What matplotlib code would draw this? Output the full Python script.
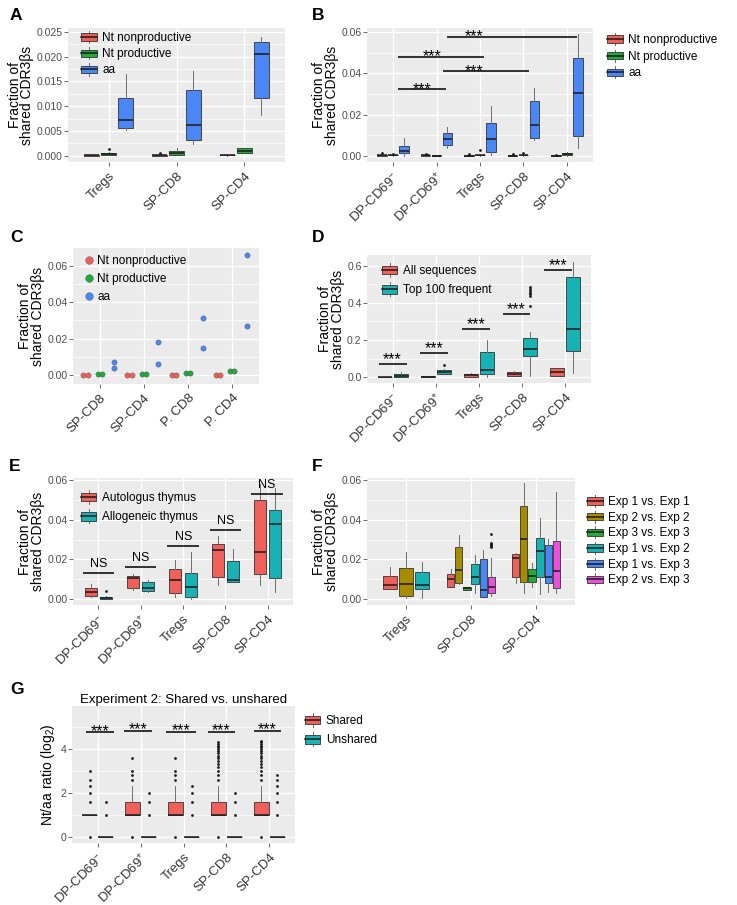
import matplotlib
matplotlib.use('Agg')
import matplotlib.pyplot as plt
from matplotlib.patches import Patch, Rectangle
from matplotlib.lines import Line2D
from matplotlib.legend_handler import HandlerBase
from matplotlib.ticker import MultipleLocator, FormatStrFormatter

plt.rcParams['font.family'] = ['Liberation Sans', 'DejaVu Sans']
plt.rcParams['mathtext.fontset'] = 'custom'
plt.rcParams['mathtext.rm'] = 'Liberation Sans'
plt.rcParams['mathtext.it'] = 'Liberation Sans:italic'

W, H = 737, 905

# ---- data (five-number summaries: whisker low, q1, median, q3, whisker high) ----
thymus5 = [r'DP-CD69$^{-}$', r'DP-CD69$^{+}$', 'Tregs', 'SP-CD8', 'SP-CD4']
three3 = ['Tregs', 'SP-CD8', 'SP-CD4']
nt_series = ['Nt nonproductive', 'Nt productive', 'aa']

# A
a_nonprod = [[0, 0, 0.0001, 0.0002, 0.0003], [0, 0, 0.0001, 0.0002, 0.0003], [0, 0.0001, 0.0001, 0.0001, 0.0002]]
a_nonprod_out = [[], [0.0006], []]
a_prod = [[0.0001, 0.0002, 0.0004, 0.0006, 0.0007], [0.0001, 0.0002, 0.0006, 0.00095, 0.0015], [0.0005, 0.0005, 0.001, 0.0015, 0.0015]]
a_prod_out = [[0.00135], [], []]
a_aa = [[0.0051, 0.0055, 0.0072, 0.0116, 0.0164], [0.0023, 0.0032, 0.0062, 0.0132, 0.017], [0.0082, 0.0116, 0.0206, 0.023, 0.024]]

# B
b_nonprod = [[0, 0, 0.0001, 0.0002, 0.0003], [0, 0, 0.0001, 0.0002, 0.0003], [0, 0, 0, 0.0002, 0.0003],
             [0, 0, 0, 0.0002, 0.0003], [0, 0, 0, 0.0002, 0.0003]]
b_nonprod_out = [[0.0012], [0.0006], [0.0008], [0.0006], [0.0005]]
b_prod = [[0, 0.0001, 0.0002, 0.0004, 0.0006], [0, 0, 0, 0.0001, 0.0001], [0, 0.0001, 0.0002, 0.0004, 0.0005],
          [0, 0.0002, 0.0003, 0.0005, 0.0007], [0, 0.0002, 0.0008, 0.0014, 0.0016]]
b_prod_out = [[0.0009], [], [0.0025], [0.0012], []]
b_aa = [[0, 0.0011, 0.0024, 0.0047, 0.0084], [0.0039, 0.0052, 0.0079, 0.0112, 0.0138],
        [0.0003, 0.0019, 0.0079, 0.0161, 0.0242], [0.0076, 0.0088, 0.0149, 0.0268, 0.0328],
        [0.0036, 0.0096, 0.0306, 0.0474, 0.059]]
b_sig = [(2.25, 5.24, 0.0579, 2.86), (1.12, 3.09, 0.0482, 1.90), (2.15, 4.13, 0.0412, 2.86), (1.12, 2.21, 0.0324, 1.67)]

# C
c_groups = ['SP-CD8', 'SP-CD4', 'P. CD8', 'P. CD4']
c_nonprod = [[0, 0], [0, 0], [0, 0], [0, 0]]
c_prod = [[0.0005, 0.0005], [0.0005, 0.0005], [0.0012, 0.0012], [0.0023, 0.0023]]
c_aa = [[0.0072, 0.0041], [0.018, 0.0062], [0.0315, 0.0151], [0.0657, 0.0268]]

# D
d_series = ['All sequences', 'Top 100 frequent']
d_all = [[0, 0, 0.001, 0.003, 0.005], [0.001, 0.002, 0.003, 0.004, 0.006], [0, 0.002, 0.01, 0.018, 0.025],
         [0.004, 0.007, 0.016, 0.027, 0.031], [0.005, 0.009, 0.028, 0.047, 0.052]]
d_top = [[0, 0.001, 0.009, 0.02, 0.027], [0.015, 0.018, 0.03, 0.038, 0.046], [0, 0.018, 0.04, 0.134, 0.2],
         [0.009, 0.113, 0.151, 0.21, 0.242], [0.021, 0.14, 0.258, 0.539, 0.622]]
d_top_out = [[], [0.065], [], [0.484, 0.474, 0.465, 0.455, 0.446, 0.436, 0.384], []]
d_sig = [(0.67, 1.32, 0.072), (1.63, 2.27, 0.129), (2.61, 3.26, 0.26), (3.55, 4.19, 0.34), (4.52, 5.16, 0.577)]

# E
e_series = ['Autologus thymus', 'Allogeneic thymus']
e_auto = [[0.001, 0.0018, 0.0035, 0.0058, 0.0078], [0.0045, 0.0058, 0.0108, 0.0117, 0.0128],
          [0.001, 0.0033, 0.0097, 0.015, 0.0195], [0.007, 0.0112, 0.0248, 0.0277, 0.032],
          [0.007, 0.0128, 0.024, 0.05, 0.058]]
e_allo = [[0.0002, 0.0003, 0.0008, 0.0012, 0.0014], [0.0035, 0.004, 0.0055, 0.0085, 0.0098],
          [0, 0.0013, 0.006, 0.0133, 0.024], [0.0085, 0.0087, 0.0097, 0.0192, 0.0253],
          [0.0035, 0.0108, 0.038, 0.045, 0.056]]
e_allo_out = [[0.0043], [], [], [], []]
e_sig = [(0.63, 1.375, 0.0133), (1.63, 2.37, 0.0163), (2.63, 3.38, 0.0268), (3.64, 4.38, 0.035), (4.6, 5.36, 0.053)]

# F
f_series = ['Exp 1 vs. Exp 1', 'Exp 2 vs. Exp 2', 'Exp 3 vs. Exp 3', 'Exp 1 vs. Exp 2', 'Exp 1 vs. Exp 3', 'Exp 2 vs. Exp 3']
f_e11 = [[0.0052, 0.0052, 0.0072, 0.0117, 0.0164], [0.006, 0.0063, 0.01, 0.0127, 0.0152], [0.0084, 0.0114, 0.0208, 0.0228, 0.0233]]
f_e22 = [[0.0005, 0.0017, 0.0077, 0.0156, 0.024], [0.0075, 0.0084, 0.0147, 0.0265, 0.0323], [0.0033, 0.0089, 0.0302, 0.0471, 0.0583]]
f_e33 = [None, [0.0045, 0.0047, 0.0057, 0.0063, 0.0064], [0.006, 0.0089, 0.0119, 0.0151, 0.018]]
f_e12 = [[0.0004, 0.005, 0.0072, 0.0139, 0.0186], [0.003, 0.0075, 0.0114, 0.0176, 0.0223], [0.0025, 0.0111, 0.0245, 0.031, 0.0407]]
f_e13 = [None, [0.001, 0.0013, 0.0047, 0.0204, 0.0248], [0.0035, 0.0084, 0.0111, 0.0273, 0.0302]]
f_e23 = [None, [0.0017, 0.0033, 0.006, 0.0111, 0.0209], [0.0033, 0.0059, 0.0141, 0.0293, 0.0541]]
f_e23_out = [[], [0.0327, 0.0285, 0.028, 0.0275, 0.027, 0.0264], []]

# G
g_series = ['Shared', 'Unshared']
g_shared = [[1, 1, 1, 1, 1], [1, 1, 1, 1.58, 2.32], [1, 1, 1, 1.58, 2.32], [1, 1, 1, 1.58, 2.32], [1, 1, 1, 1.58, 2.32]]
g_shared_out = [[0, 1.58, 2, 2.32, 2.58, 3],
                [0, 2.58, 2.81, 3, 3.58],
                [0, 2.58, 2.81, 3, 3.58],
                [0, 2.58, 2.81, 3, 3.17, 3.32, 3.46, 3.58, 3.70, 3.81, 3.91, 4.0, 4.09, 4.17, 4.25, 4.32],
                [0, 2.58, 2.81, 3, 3.17, 3.32, 3.46, 3.58, 3.70, 3.81, 3.91, 4.0, 4.09, 4.17, 4.25, 4.32, 4.39]]
g_unshared = [[0, 0, 0, 0, 0]] * 5
g_unshared_out = [[1, 1.58], [1, 1.58, 2], [1, 1.58, 2, 2.32], [1, 1.58, 2], [1, 1.58, 2, 2.32, 2.58, 2.81]]
g_sig = [(0.72, 1.37, 4.77), (1.62, 2.26, 4.85), (2.6, 3.3, 4.8), (3.56, 4.2, 4.8), (4.64, 5.28, 4.85)]

# ---- colours ----
col3 = ['#EE5F58', '#1FAA3A', '#4A86F5']
col2 = ['#F0605A', '#18B2B5']
col6 = ['#F0605A', '#A88C00', '#1FAA3A', '#18B2B5', '#4A86F5', '#EC4FDC']

fig = plt.figure(figsize=(W / 100, H / 100), dpi=100)


def axpos(l, r, t, b):
    return fig.add_axes([l / W, 1 - b / H, (r - l) / W, (b - t) / H])


def frame(ax, labels, ylim, major, minor, fmt, xsize=9.5):
    n = len(labels)
    ax.set_facecolor('#EBEBEB')
    for s in ax.spines.values():
        s.set_visible(False)
    ax.set_xlim(0.4, n + 0.6)
    ax.set_ylim(*ylim)
    ax.set_xticks(range(1, n + 1))
    ax.set_xticklabels(labels, rotation=45, ha='right', va='top', rotation_mode='anchor')
    ax.yaxis.set_major_locator(MultipleLocator(major))
    ax.yaxis.set_minor_locator(MultipleLocator(minor))
    ax.yaxis.set_major_formatter(FormatStrFormatter(fmt))
    ax.grid(which='major', color='white', lw=1.0)
    ax.grid(which='minor', axis='y', color='white', lw=0.5)
    ax.set_axisbelow(True)
    ax.tick_params(which='major', length=2.7, width=0.5, color='#333333', labelcolor='#4D4D4D',
                   labelsize=7.5, pad=1.2)
    ax.tick_params(which='minor', length=0)
    ax.tick_params(axis='x', labelcolor='#333333', labelsize=xsize, pad=3)


def boxes(ax, stats, pos, width, color, fliers=None):
    data, ps = [], []
    for i, s in enumerate(stats):
        if s is None:
            continue
        f = fliers[i] if fliers else []
        data.append(dict(whislo=s[0], q1=s[1], med=s[2], q3=s[3], whishi=s[4], fliers=f))
        ps.append(i + 1 + pos)
    ax.bxp(data, positions=ps, widths=width, patch_artist=True, showcaps=False, manage_ticks=False,
           boxprops=dict(facecolor=color, edgecolor='#333333', lw=0.6),
           medianprops=dict(color='#1A1A1A', lw=1.1),
           whiskerprops=dict(color='#6E6E6E', lw=0.7),
           flierprops=dict(marker='o', markersize=2.0, markerfacecolor='#1A1A1A', markeredgecolor='none'))


def sig(ax, bars, text, dy, size=11.5, xs=None):
    for k, b in enumerate(bars):
        x1, x2, y = b[0], b[1], b[2]
        ax.plot([x1, x2], [y, y], color='black', lw=1.1, solid_capstyle='butt')
        xt = xs[k] if xs else (x1 + x2) / 2
        ax.annotate(text, (xt, y), xytext=(0, dy), textcoords='offset points', ha='center',
                    va='baseline', fontsize=size)


class BoxKey(HandlerBase):
    def create_artists(self, legend, orig, xd, yd, w, h, fontsize, trans):
        x0, y0 = -xd, -yd
        fc = orig.get_facecolor()
        arts = [Line2D([x0 + w / 2] * 2, [y0, y0 + h], color='#6E6E6E', lw=0.7, transform=trans),
                Rectangle((x0, y0 + 0.2 * h), w, 0.6 * h, facecolor=fc, edgecolor='#333333', lw=0.6,
                          transform=trans),
                Line2D([x0, x0 + w], [y0 + h / 2] * 2, color='#1A1A1A', lw=1.1, transform=trans)]
        return arts


def box_legend(ax, labels, colors, x, y, spacing, hl=1.33, hh=1.2, pad=0.45):
    handles = [Patch(facecolor=c, label=l) for c, l in zip(colors, labels)]
    ax.legend(handles=handles, loc='upper left', bbox_to_anchor=(x / W, 1 - y / H),
              bbox_transform=fig.transFigure, frameon=False, fontsize=8.5,
              handler_map={Patch: BoxKey()}, borderpad=0, borderaxespad=0, handlelength=hl,
              handleheight=hh, handletextpad=pad, labelspacing=spacing)


ylab = 'Fraction of\nshared CDR3βs'
ylab_kw = dict(fontsize=10, linespacing=0.9, labelpad=1.5)

# ---- A ----
ax = axpos(68, 285, 28, 162)
frame(ax, three3, (-0.00127, 0.02575), 0.005, 0.0025, '%.3f')
for k, (st, out) in enumerate([(a_nonprod, a_nonprod_out), (a_prod, a_prod_out), (a_aa, None)]):
    boxes(ax, st, (k - 1) * 0.25, 0.22, col3[k], out)
ax.set_ylabel(ylab, **ylab_kw)
box_legend(ax, nt_series, col3, 81, 31, 0.27)

# ---- B ----
ax = axpos(367, 593, 28, 162)
frame(ax, thymus5, (-0.0031, 0.0621), 0.02, 0.01, '%.2f')
for k, (st, out) in enumerate([(b_nonprod, b_nonprod_out), (b_prod, b_prod_out), (b_aa, None)]):
    boxes(ax, st, (k - 1) * 0.25, 0.22, col3[k], out)
ax.set_ylabel(ylab, **ylab_kw)
sig(ax, [b[:3] for b in b_sig], '***', -3.6, xs=[b[3] for b in b_sig])
box_legend(ax, nt_series, col3, 607, 33, 0.3)

# ---- C ----
ax = axpos(73, 259, 248, 384)
frame(ax, c_groups, (-0.0049, 0.0697), 0.02, 0.01, '%.2f')
c_off = [-0.32, 0.0, 0.33]
c_spread = [0.05, 0.045, 0.0]
for k, vals in enumerate([c_nonprod, c_prod, c_aa]):
    for i, pair in enumerate(vals):
        for j, v in enumerate(pair):
            ax.plot(i + 1 + c_off[k] + (j - 0.5) * 2 * c_spread[k], v, 'o', ms=3.8, mfc=col3[k],
                    mec='#555555', mew=0.3, zorder=3)
ax.set_ylabel(ylab, **ylab_kw)
ch = [Line2D([], [], ls='', marker='o', ms=5.5, mfc=c, mec='#555555', mew=0.3, label=l)
      for c, l in zip(col3, nt_series)]
ax.legend(handles=ch, loc='upper left', bbox_to_anchor=(83 / W, 1 - 255 / H), bbox_transform=fig.transFigure,
          frameon=False, fontsize=8.5, borderpad=0, borderaxespad=0, handlelength=1.0,
          handletextpad=0.2, labelspacing=0.5)

# ---- D ----
ax = axpos(367, 591, 255, 383)
frame(ax, thymus5, (-0.031, 0.6575), 0.2, 0.1, '%.1f')
boxes(ax, d_all, -0.19, 0.33, col2[0])
boxes(ax, d_top, 0.19, 0.33, col2[1], d_top_out)
ax.set_ylabel(ylab, **ylab_kw)
sig(ax, d_sig, '***', 0)
box_legend(ax, d_series, col2, 382, 263, 0.45, hl=1.3, hh=1.45)

# ---- E ----
ax = axpos(73, 293, 478, 605)
frame(ax, thymus5, (-0.0029, 0.061), 0.02, 0.01, '%.2f')
boxes(ax, e_auto, -0.18, 0.28, col2[0])
boxes(ax, e_allo, 0.18, 0.28, col2[1], e_allo_out)
ax.set_ylabel(ylab, **ylab_kw)
sig(ax, e_sig, 'NS', 4, size=9)
box_legend(ax, e_series, col2, 81, 490, 0.45, hl=1.3, hh=1.45)

# ---- F ----
ax = axpos(367, 575, 478, 605)
frame(ax, three3, (-0.0029, 0.061), 0.02, 0.01, '%.2f')
f_all = [(f_e11, None), (f_e22, None), (f_e33, None), (f_e12, None), (f_e13, None), (f_e23, f_e23_out)]
tregs_slot = {0: -0.25, 1: 0.0, 3: 0.25}
for k, (st, out) in enumerate(f_all):
    # Tregs holds three comparisons, the other groups hold six
    if st[0] is not None:
        boxes(ax, [st[0]], tregs_slot[k], 0.22, col6[k], [out[0]] if out else None)
    ax_stats = [None] + st[1:]
    boxes(ax, ax_stats, -0.3125 + 0.125 * k, 0.11, col6[k], out)
ax.set_ylabel(ylab, **ylab_kw)
box_legend(ax, f_series, col6, 587, 495, 0.22)

# ---- G ----
ax = axpos(72, 295, 706, 843)
frame(ax, thymus5, (-0.29, 5.98), 2, 1, '%d', xsize=9.5)
boxes(ax, g_shared, -0.19, 0.35, col2[0], g_shared_out)
boxes(ax, g_unshared, 0.19, 0.35, col2[1], g_unshared_out)
ax.set_ylabel(r'Nt/aa ratio (log$_2$)', fontsize=10, labelpad=3)
ax.set_title('Experiment 2: Shared vs. unshared', fontsize=9.5, pad=2)
sig(ax, g_sig, '***', -2.6)
box_legend(ax, g_series, col2, 305, 713, 0.45, hl=1.3, hh=1.45)

# panel letters
for letter, (x, y) in {'A': (10, 15), 'B': (312, 15), 'C': (10, 237), 'D': (312, 238),
                       'E': (9, 466), 'F': (312, 466), 'G': (10, 689)}.items():
    fig.text(x / W, 1 - y / H, letter, fontsize=12.5, fontweight='bold', va='center', ha='left')

fig.savefig('out.png', dpi=100)
